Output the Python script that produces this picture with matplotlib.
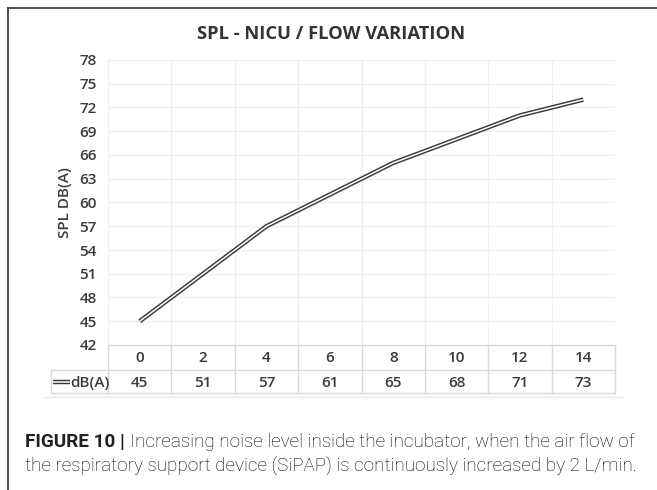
import matplotlib
matplotlib.use("Agg")
import matplotlib.pyplot as plt
import matplotlib.transforms as mtransforms
from matplotlib.lines import Line2D

flow = [0, 2, 4, 6, 8, 10, 12, 14]
spl = [45, 51, 57, 61, 65, 68, 71, 73]
yticks = [42, 45, 48, 51, 54, 57, 60, 63, 66, 69, 72, 75, 78]
series_name = "dB(A)"
title = "SPL - NICU / FLOW VARIATION"
ylabel = "SPL DB(A)"

W, H = 657, 490
fig = plt.figure(figsize=(W / 100, H / 100), dpi=100)
fig.patch.set_facecolor("white")

def fx(px):
    return px / W

def fy(py):
    return 1 - py / H

font = "Open Sans"
tc = "#3a3a3a"
fs = 11

# plot area
left, right, top, bottom = 108, 615, 60, 345
ax = fig.add_axes([fx(left), fy(bottom), fx(right - left), (bottom - top) / H])
idx = list(range(len(flow)))
ax.set_xlim(-0.5, len(flow) - 0.5)
ax.set_ylim(42, 78)
ax.set_yticks(yticks)
ax.set_yticklabels([str(v) for v in yticks], fontfamily=font, fontsize=fs, color=tc, fontweight="semibold")
ax.set_xticks([])
ax.tick_params(axis="y", length=0, pad=8)
for s in ax.spines.values():
    s.set_visible(False)
for v in yticks:
    ax.axhline(v, color="#efefef", lw=0.9, zorder=0)
for b in [i - 0.5 for i in range(len(flow) + 1)]:
    ax.axvline(b, color="#efefef", lw=0.9, zorder=0)

ax.plot(idx, spl, color="#3a3a3a", lw=3.2, solid_capstyle="butt", solid_joinstyle="round", zorder=3)
ax.plot(idx, spl, color="white", lw=1.1, solid_capstyle="butt", solid_joinstyle="round", zorder=4)

ax.set_ylabel(ylabel, fontfamily=font, fontsize=fs, fontweight="semibold", color=tc, labelpad=5)

# table
tr = mtransforms.blended_transform_factory(ax.transData, fig.transFigure)
gc = "#d9d9d9"
row1_y, row2_y, bot_y = 345, 370, 393
fig.add_artist(Line2D([fx(left), fx(right)], [fy(row1_y)] * 2, color=gc, lw=1.0))
fig.add_artist(Line2D([fx(51), fx(right)], [fy(row2_y)] * 2, color=gc, lw=1.0))
fig.add_artist(Line2D([fx(51), fx(right)], [fy(bot_y)] * 2, color=gc, lw=1.0))
fig.add_artist(Line2D([fx(45), fx(623)], [fy(397)] * 2, color="#e6e6e6", lw=1.0))
for b in [i - 0.5 for i in range(len(flow) + 1)]:
    ax.add_line(Line2D([b, b], [fy(row1_y), fy(bot_y)], color=gc, lw=1.0, transform=tr, clip_on=False))
fig.add_artist(Line2D([fx(51)] * 2, [fy(row2_y), fy(bot_y)], color=gc, lw=1.0))

for i, (f, v) in enumerate(zip(flow, spl)):
    ax.text(i, fy((row1_y + row2_y) / 2 + 1), str(f), transform=tr, ha="center", va="center",
            fontfamily=font, fontsize=fs, fontweight="semibold", color=tc, clip_on=False)
    ax.text(i, fy((row2_y + bot_y) / 2 + 1), str(v), transform=tr, ha="center", va="center",
            fontfamily=font, fontsize=fs, fontweight="semibold", color=tc, clip_on=False)

ky = fy((row2_y + bot_y) / 2)
fig.add_artist(Line2D([fx(53), fx(70)], [ky, ky], color="#3a3a3a", lw=3.2, solid_capstyle="butt"))
fig.add_artist(Line2D([fx(53), fx(70)], [ky, ky], color="white", lw=1.1, solid_capstyle="butt"))
fig.text(fx(70), fy((row2_y + bot_y) / 2 + 1), series_name, ha="left", va="center", fontfamily=font,
         fontsize=fs, fontweight="semibold", color=tc)

# title
fig.text(fx(331), fy(34), title, ha="center", va="center", fontfamily=font, fontsize=13.2,
         fontweight="bold", color="#333333")

# frame
fig.add_artist(Line2D([fx(8), fx(8)], [fy(8), 0], color="#333333", lw=1.2))
fig.add_artist(Line2D([fx(8), 1], [fy(8), fy(8)], color="#333333", lw=1.2))

# caption
cf = "Roboto"
cs = 13.6
t1 = fig.text(fx(25), fy(442), "FIGURE 10 |", ha="left", va="center", fontfamily=cf,
              fontsize=cs, fontweight="bold", color="#231f20")
renderer = fig.canvas.get_renderer()
bb = t1.get_window_extent(renderer=renderer)
x_after = (bb.x1 + 5) / W
fig.text(x_after, fy(442), "Increasing noise level inside the incubator, when the air flow of",
         ha="left", va="center", fontfamily=cf, fontsize=cs, fontweight="light", color="#000000")
fig.text(fx(25), fy(466), "the respiratory support device (SiPAP) is continuously increased by 2 L/min.",
         ha="left", va="center", fontfamily=cf, fontsize=cs, fontweight="light", color="#000000")

fig.savefig("out.png", dpi=100, facecolor="white")
